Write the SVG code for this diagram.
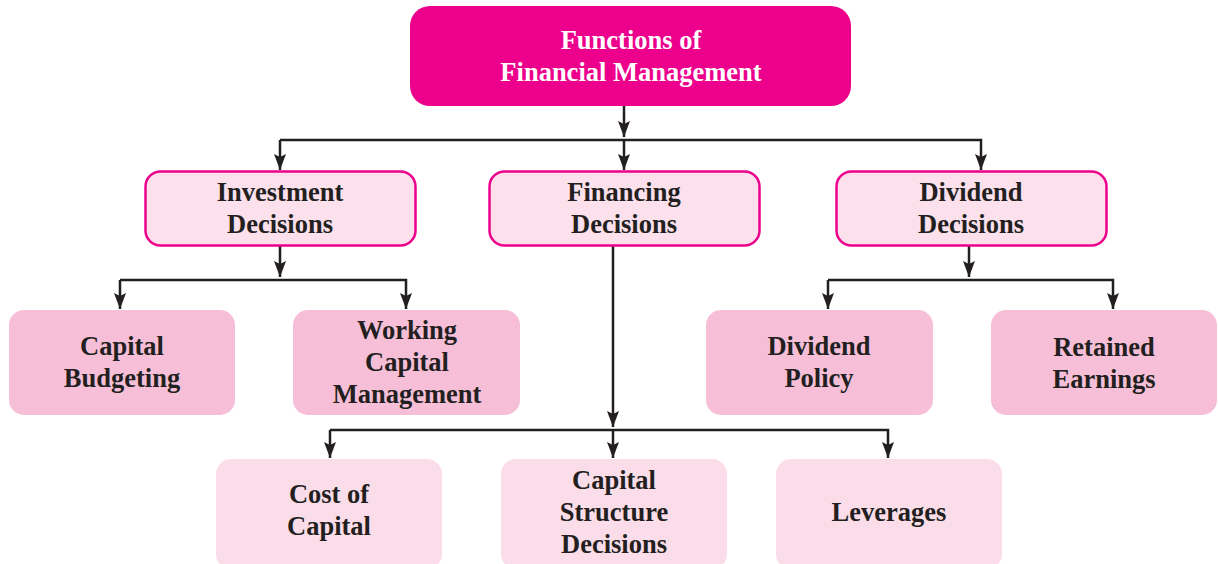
<svg xmlns="http://www.w3.org/2000/svg" width="1218" height="564" viewBox="0 0 1218 564">
<defs>
<style>
.t{font-family:"Liberation Serif","Times New Roman",serif;font-weight:bold;font-size:26.5px;fill:#231F20;text-anchor:middle}
.w{fill:#FFFFFF}
.c{fill:none;stroke:#231F20;stroke-width:2.5}
.l2{fill:#FCE0EC;stroke:#EC008C;stroke-width:2.5}
.l3{fill:#F6BFD7}
.l4{fill:#FBDDE9}
</style>
<marker id="ah" markerUnits="userSpaceOnUse" markerWidth="16" markerHeight="12" viewBox="0 0 16 12" refX="16" refY="6" orient="auto">
<path d="M0,0 L3,6 L0,12 L16,6 Z" fill="#231F20"/>
</marker>
</defs>
<g id="connectors">
<path class="c" d="M624,106 V137" marker-end="url(#ah)"/>
<path class="c" d="M280,140 H981 V170" marker-end="url(#ah)"/>
<path class="c" d="M280,140 V170" marker-end="url(#ah)"/>
<path class="c" d="M624,140 V170" marker-end="url(#ah)"/>
<path class="c" d="M280,245 V277" marker-end="url(#ah)"/>
<path class="c" d="M120,280 H406 V309" marker-end="url(#ah)"/>
<path class="c" d="M120,280 V309" marker-end="url(#ah)"/>
<path class="c" d="M969,245 V277" marker-end="url(#ah)"/>
<path class="c" d="M828,280 H1113 V309" marker-end="url(#ah)"/>
<path class="c" d="M828,280 V309" marker-end="url(#ah)"/>
<path class="c" d="M613,245 V427" marker-end="url(#ah)"/>
<path class="c" d="M330,430 H888 V458" marker-end="url(#ah)"/>
<path class="c" d="M330,430 V458" marker-end="url(#ah)"/>
<path class="c" d="M613,430 V458" marker-end="url(#ah)"/>
</g>
<g id="functions">
<rect x="410" y="6" width="441" height="100" rx="20" fill="#EC008C"/>
<text class="t w" x="631" y="49">Functions of</text>
<text class="t w" x="631" y="81">Financial Management</text>
</g>
<g id="investment">
<rect class="l2" x="145.5" y="171.5" width="270" height="74" rx="15"/>
<text class="t" x="280" y="201">Investment</text>
<text class="t" x="280" y="233">Decisions</text>
</g>
<g id="financing">
<rect class="l2" x="489.5" y="171.5" width="270" height="74" rx="15"/>
<text class="t" x="624" y="201">Financing</text>
<text class="t" x="624" y="233">Decisions</text>
</g>
<g id="dividend">
<rect class="l2" x="836.5" y="171.5" width="270" height="74" rx="15"/>
<text class="t" x="971" y="201">Dividend</text>
<text class="t" x="971" y="233">Decisions</text>
</g>
<g id="capital-budgeting">
<rect class="l3" x="9" y="310" width="226" height="105" rx="15"/>
<text class="t" x="122" y="355">Capital</text>
<text class="t" x="122" y="387">Budgeting</text>
</g>
<g id="working-capital">
<rect class="l3" x="293" y="310" width="227" height="105" rx="15"/>
<text class="t" x="407" y="339">Working</text>
<text class="t" x="407" y="371">Capital</text>
<text class="t" x="407" y="403">Management</text>
</g>
<g id="dividend-policy">
<rect class="l3" x="706" y="310" width="227" height="105" rx="15"/>
<text class="t" x="819" y="355">Dividend</text>
<text class="t" x="819" y="387">Policy</text>
</g>
<g id="retained-earnings">
<rect class="l3" x="991" y="310" width="226" height="105" rx="15"/>
<text class="t" x="1104" y="356">Retained</text>
<text class="t" x="1104" y="388">Earnings</text>
</g>
<g id="cost-of-capital">
<rect class="l4" x="216" y="459" width="226" height="110" rx="15"/>
<text class="t" x="329" y="503">Cost of</text>
<text class="t" x="329" y="535">Capital</text>
</g>
<g id="capital-structure">
<rect class="l4" x="501" y="459" width="226" height="110" rx="15"/>
<text class="t" x="614" y="489">Capital</text>
<text class="t" x="614" y="521">Structure</text>
<text class="t" x="614" y="553">Decisions</text>
</g>
<g id="leverages">
<rect class="l4" x="776" y="459" width="226" height="110" rx="15"/>
<text class="t" x="889" y="521">Leverages</text>
</g>
</svg>
